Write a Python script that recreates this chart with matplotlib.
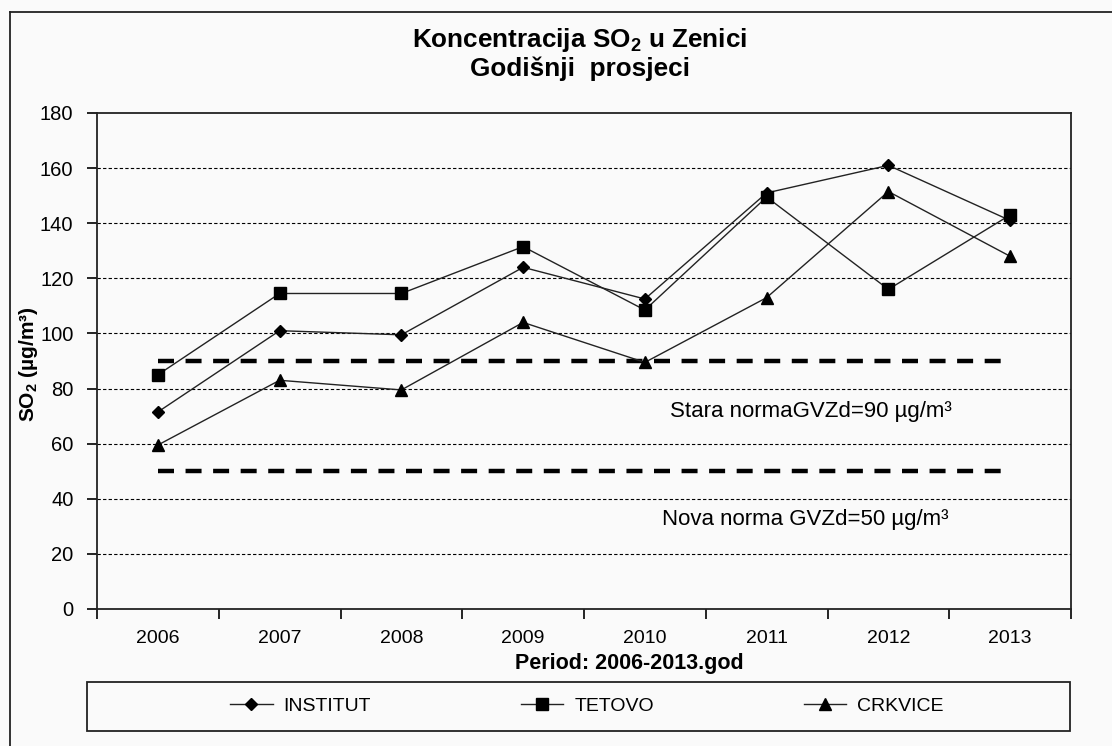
import matplotlib
matplotlib.use("Agg")
import matplotlib.pyplot as plt
from matplotlib.lines import Line2D
from matplotlib.patches import Rectangle

plt.rcParams['font.family'] = ['Liberation Sans', 'DejaVu Sans']
plt.rcParams['mathtext.default'] = 'regular'

# data
years = ['2006', '2007', '2008', '2009', '2010', '2011', '2012', '2013']
institut = [71.5, 101, 99.5, 124, 112.5, 151, 161, 141]
tetovo = [85, 114.5, 114.5, 131.5, 108.5, 149.5, 116, 143]
crkvice = [59.5, 83, 79.5, 104, 89.5, 113, 151.5, 128]
stara_norma = [90, 90, 90, 90, 90, 90, 90, 90]
nova_norma = [50, 50, 50, 50, 50, 50, 50, 50]
y_ticks = [0, 20, 40, 60, 80, 100, 120, 140, 160, 180]

W, H = 1112, 746
bg = '#fafafa'

fig = plt.figure(figsize=(W / 100, H / 100), dpi=100, facecolor=bg)
ax = fig.add_axes([97 / W, 1 - 609 / H, (1071 - 97) / W, (609 - 113) / H])
ax.set_facecolor(bg)

x = list(range(len(years)))

for v in y_ticks[1:-1]:
    ax.axhline(v, color='black', lw=0.8, ls=(0, (3, 2)), zorder=1)

ax.plot(x, stara_norma, color='black', lw=3.2, ls=(0, (3.6, 2.6)), zorder=2)
ax.plot(x, nova_norma, color='black', lw=3.2, ls=(0, (3.6, 2.6)), zorder=2)

l1, = ax.plot(x, institut, color='#222222', lw=1.0, marker='D', ms=6.5,
              mfc='black', mec='black', zorder=3)
l2, = ax.plot(x, tetovo, color='#222222', lw=1.0, marker='s', ms=8,
              mfc='black', mec='black', zorder=4)
l3, = ax.plot(x, crkvice, color='#222222', lw=1.0, marker='^', ms=8.5,
              mfc='black', mec='black', zorder=5)

ax.set_xlim(-0.5, 7.5)
ax.set_ylim(0, 180)
ax.set_yticks(y_ticks)
ax.set_xticks(x)
ax.set_xticklabels(years)
ax.set_xticks([i - 0.5 for i in range(len(years) + 1)], minor=True)
ax.tick_params(axis='x', which='major', length=0, pad=15, labelsize=14)
ax.tick_params(axis='x', which='minor', length=7, width=1.2, direction='out')
ax.tick_params(axis='y', length=7, width=1.2, direction='out', pad=10, labelsize=14.5)
for s in ax.spines.values():
    s.set_linewidth(1.3)
    s.set_color('#222222')

ax.text(5.36, 71.5, 'Stara normaGVZd=90 µg/m³', fontsize=16,
        ha='center', va='center')
ax.text(5.32, 32.5, 'Nova norma GVZd=50 µg/m³', fontsize=16,
        ha='center', va='center')

fig.text(580 / W, 1 - 40 / H, 'Koncentracija SO$_2$ u Zenici',
         fontsize=18.8, fontweight='bold', ha='center', va='center')
fig.text(580 / W, 1 - 69 / H, 'Godišnji  prosjeci',
         fontsize=18.8, fontweight='bold', ha='center', va='center')

fig.text(28 / W, 1 - 364 / H, 'SO$_2$ (µg/m³)', fontsize=15,
         fontweight='bold', rotation=90, ha='center', va='center')
fig.text(629 / W, 1 - 663 / H, 'Period: 2006-2013.god', fontsize=15.5,
         fontweight='bold', ha='center', va='center')

# legend box
fig.patches.append(Rectangle((87 / W, 1 - 731 / H), (1070 - 87) / W, (731 - 682) / H,
                             transform=fig.transFigure, fill=False,
                             edgecolor='#222222', lw=1.3))
fig.legend([l1, l2, l3], ['INSTITUT', 'TETOVO', 'CRKVICE'], ncol=3,
           loc='center left', bbox_to_anchor=(230 / W, 1 - 706 / H),
           frameon=False, fontsize=14, handlelength=2.2, handletextpad=0.55,
           columnspacing=7.7, borderpad=0, borderaxespad=0, markerscale=1.0)

# outer chart frame (only left and top edges are visible)
fig.lines.append(Line2D([9.5 / W, 9.5 / W], [0, 1 - 11.5 / H],
                        transform=fig.transFigure, color='#222222', lw=1.3))
fig.lines.append(Line2D([9.5 / W, 1], [1 - 11.5 / H, 1 - 11.5 / H],
                        transform=fig.transFigure, color='#222222', lw=1.3))

fig.savefig('out.png', dpi=100, facecolor=bg)
